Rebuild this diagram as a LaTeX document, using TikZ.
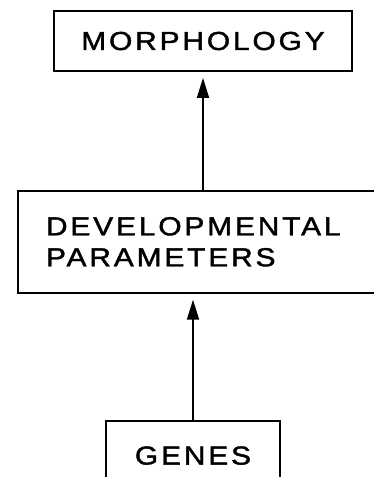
\documentclass[tikz,border=0pt]{standalone}
\usepackage{fontspec}
\newfontfamily\diagfont[FakeStretch=1.15,LetterSpace=11,FakeBold=1.6]{Liberation Sans}
\usetikzlibrary{positioning,arrows.meta}

\begin{document}
\begin{tikzpicture}[x=1pt, y=1pt, node distance=118pt,
    gen block/.style={rectangle, draw, line width=1.8pt, align=center, inner sep=0pt,
        font=\diagfont\fontsize{26}{31}\selectfont},
    gen arrow/.style={-{Triangle[length=20pt,width=12pt]}, line width=1.8pt, shorten >=6pt}]

    \useasboundingbox (0,0) rectangle (373,-477);
    \node [gen block, minimum width=298pt, minimum height=60pt] (morph) at (203,-41) {MORPHOLOGY};
    \node [gen block, below=of morph, text width=314pt, inner xsep=28pt, minimum height=102pt, align=left] (dev) {DEVELOPMENTAL\\PARAMETERS};
    \node [gen block, below=126pt of dev, xshift=-10pt, minimum width=174pt, minimum height=70pt] (genes) {GENES};

    \draw [gen arrow] (morph.south |- dev.north) -- (morph.south);
    \draw [gen arrow] (genes.north) -- (genes.north |- dev.south);
\end{tikzpicture}
\end{document}
